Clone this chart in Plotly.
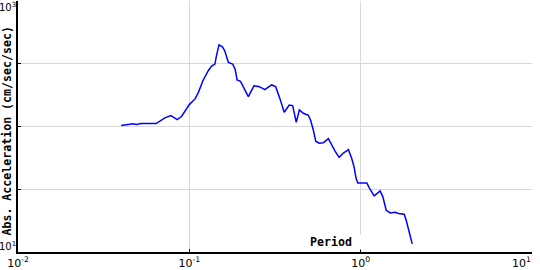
import plotly.graph_objects as go

# Spectral data (period in s, abs. acceleration in cm/sec/sec)
period = [0.040, 0.043, 0.047, 0.049, 0.0525, 0.064, 0.067, 0.072, 0.078, 0.080,
          0.085, 0.090, 0.095, 0.100, 0.108, 0.113, 0.120, 0.129, 0.135, 0.141,
          0.144, 0.149, 0.156, 0.161, 0.169, 0.179, 0.185, 0.190, 0.199, 0.208,
          0.221, 0.239, 0.256, 0.276, 0.302, 0.319, 0.331, 0.338, 0.358, 0.383,
          0.401, 0.421, 0.439, 0.463, 0.495, 0.511, 0.530, 0.547, 0.572, 0.606,
          0.648, 0.679, 0.709, 0.749, 0.793, 0.849, 0.888, 0.916, 0.941, 0.963,
          1.087, 1.121, 1.199, 1.244, 1.300, 1.348, 1.410, 1.488, 1.591, 1.664,
          1.796, 1.845, 1.929, 2.0]
accel = [101.8, 103.7, 105.1, 103.7, 105.6, 105.6, 110.2, 117.2, 122.3, 120.1,
         113.6, 120.1, 135.7, 149.5, 165.9, 187.2, 231.7, 278.2, 303.1, 314.5,
         366.0, 447.5, 431.4, 401.1, 323.8, 314.5, 287.1, 234.8, 228.8, 205.1,
         173.0, 211.5, 207.7, 196.6, 214.3, 207.7, 181.8, 166.8, 129.9, 148.1,
         146.8, 108.2, 135.7, 127.5, 122.9, 111.6, 92.97, 76.4, 73.7, 74.3,
         79.9, 70.7, 63.7, 56.8, 61.4, 65.3, 55.4, 47.5, 38.5, 35.5,
         35.5, 32.6, 28.0, 29.2, 30.7, 27.5, 21.5, 20.5, 20.7, 20.3,
         20.0, 17.9, 14.1, 11.6]

x_tickvals = [0.01, 0.1, 1, 10]
x_ticktext = ["10<sup>-2</sup>", "10<sup>-1</sup>", "10<sup>0</sup>", ""]
x_label_right = "10<sup>1</sup>"
y_gridvals = [10, 31.6228, 100, 316.228, 1000]
y_label_top = "10<sup>3</sup>"
y_label_bottom = "10<sup>1</sup>"
x_title = "Period"
y_title = "Abs. Acceleration (cm/sec/sec)"

label_font = dict(family="DejaVu Sans", size=11, color="black")
ylabel_font = dict(family="DejaVu Sans", size=10, color="black")
title_font = dict(family="DejaVu Sans Mono", size=11.6, color="black")

fig = go.Figure()
fig.add_trace(go.Scatter(x=period, y=accel, mode="lines",
                         line=dict(color="#0000ff", width=1.5),
                         showlegend=False, hoverinfo="skip"))

fig.update_layout(
    width=540, height=270,
    margin=dict(l=18, r=8, t=1, b=18, pad=0),
    paper_bgcolor="white", plot_bgcolor="white",
    xaxis=dict(type="log", range=[-2, 1.0002], tickvals=x_tickvals, ticktext=x_ticktext,
               showgrid=True, gridcolor="#d8d8d8", gridwidth=1,
               showline=True, linecolor="black", linewidth=1.5,
               ticks="inside", ticklen=3, tickcolor="black", tickwidth=1,
               tickfont=label_font, zeroline=False),
    yaxis=dict(type="log", range=[1, 3.0002], tickvals=y_gridvals, showticklabels=False,
               showgrid=True, gridcolor="#d8d8d8", gridwidth=1,
               showline=True, linecolor="black", linewidth=1.5,
               ticks="inside", ticklen=3, tickcolor="black", tickwidth=1,
               zeroline=False),
)

# y tick labels (only the decade ends are labelled)
fig.add_annotation(text=y_label_top, xref="paper", yref="paper", x=0, y=1,
                   xanchor="right", yanchor="top", showarrow=False,
                   font=ylabel_font, xshift=0, yshift=2)
fig.add_annotation(text=y_label_bottom, xref="paper", yref="paper", x=0, y=0,
                   xanchor="right", yanchor="bottom", showarrow=False,
                   font=ylabel_font, xshift=0, yshift=-2)
# last x tick label, kept inside the page
fig.add_annotation(text=x_label_right, xref="paper", yref="paper", x=1, y=0,
                   xanchor="right", yanchor="top", showarrow=False,
                   font=label_font, xshift=1, yshift=-1)

# axis titles
fig.add_annotation(text="<b>" + y_title + "</b>", xref="paper", yref="paper",
                   x=-0.0204, y=0.482, xanchor="center", yanchor="middle",
                   textangle=-90, showarrow=False, font=title_font)
fig.add_annotation(text="<b>" + x_title + "</b>", xref="x", yref="paper",
                   x=-0.1725, y=0.04, xanchor="center", yanchor="middle",
                   showarrow=False, font=title_font, bgcolor="white",
                   width=62, height=14, borderpad=0)

fig.write_html("out.html")
